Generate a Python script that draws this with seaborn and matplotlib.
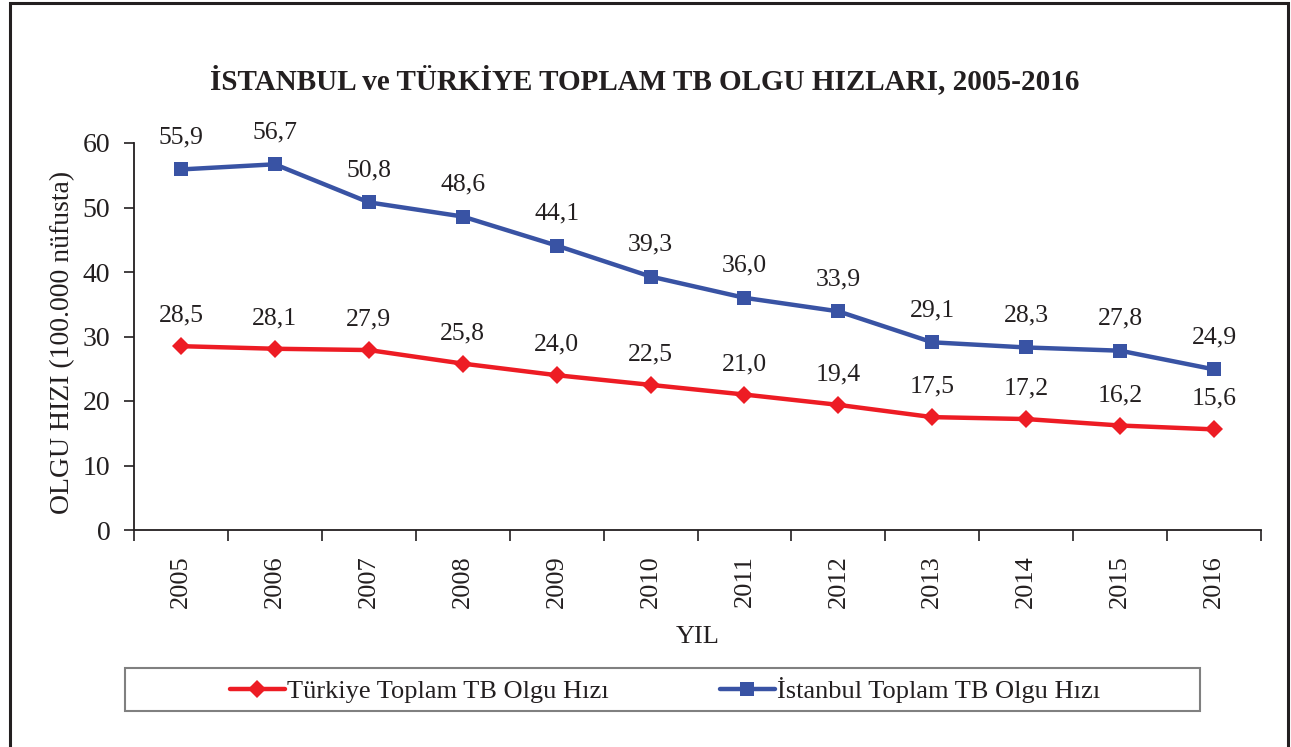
import matplotlib
matplotlib.use("Agg")
import matplotlib.pyplot as plt
import seaborn as sns
import numpy as np
from matplotlib.patches import Rectangle
from matplotlib.lines import Line2D

years = ["2005", "2006", "2007", "2008", "2009", "2010", "2011", "2012", "2013", "2014", "2015", "2016"]
turkiye = [28.5, 28.1, 27.9, 25.8, 24.0, 22.5, 21.0, 19.4, 17.5, 17.2, 16.2, 15.6]
istanbul = [55.9, 56.7, 50.8, 48.6, 44.1, 39.3, 36.0, 33.9, 29.1, 28.3, 27.8, 24.9]

title = "İSTANBUL ve TÜRKİYE TOPLAM TB OLGU HIZLARI, 2005-2016"
ylabel = "OLGU HIZI (100.000 nüfusta)"
xlabel = "YIL"
label_tr = "Türkiye Toplam TB Olgu Hızı"
label_ist = "İstanbul Toplam TB Olgu Hızı"

RED = "#ED1C24"
BLUE = "#3953A4"
INK = "#231F20"

sns.set_theme(style="white")
plt.rcParams['font.family'] = ['Liberation Serif', 'DejaVu Serif']

W, H = 1291, 747
fig = plt.figure(figsize=(W / 100, H / 100), dpi=100)
fig.patch.set_facecolor("white")

ax = fig.add_axes([134 / W, 1 - 530 / H, (1261 - 134) / W, (530 - 143) / H])
ax.set_facecolor("white")

x = np.arange(len(years))
sns.lineplot(x=x, y=turkiye, ax=ax, color=RED, lw=3.2, marker="D", markersize=9,
             markeredgecolor=RED, markeredgewidth=0, label=label_tr, legend=False)
sns.lineplot(x=x, y=istanbul, ax=ax, color=BLUE, lw=3.2, marker="s", markersize=10,
             markeredgecolor=BLUE, markeredgewidth=0, label=label_ist, legend=False)

for xi, v in zip(x, turkiye):
    ax.annotate(f"{v:.1f}".replace(".", ","), (xi, v), xytext=(0, 22), textcoords="offset points",
                ha="center", va="center", fontsize=18.5, color=INK)
for xi, v in zip(x, istanbul):
    ax.annotate(f"{v:.1f}".replace(".", ","), (xi, v), xytext=(0, 23), textcoords="offset points",
                ha="center", va="center", fontsize=18.5, color=INK)

ax.set_xlim(-0.5, len(years) - 0.5)
ax.set_ylim(0, 60)
ax.set_yticks(range(0, 61, 10))
ax.set_xticks(np.arange(-0.5, len(years), 1.0))
ax.set_xticklabels([])
ax.set_xticks(x, minor=True)
ax.set_xticklabels(years, minor=True, rotation=90)
ax.tick_params(axis="x", which="major", direction="out", length=8, width=1.2, color=INK, bottom=True)
ax.tick_params(axis="x", which="minor", length=0, pad=18, labelsize=19, labelcolor=INK, bottom=True)
ax.tick_params(axis="y", direction="out", length=7, width=1.2, color=INK, labelsize=20,
               labelcolor=INK, left=True, pad=10)

for s in ["top", "right"]:
    ax.spines[s].set_visible(False)
for s in ["left", "bottom"]:
    ax.spines[s].set_color(INK)
    ax.spines[s].set_linewidth(1.3)

ax.set_ylabel(ylabel, fontsize=20, color=INK)
ax.yaxis.set_label_coords(-59 / (1261 - 134), (530 - 342) / (530 - 143))
ax.set_xlabel(xlabel, fontsize=19, color=INK)
ax.xaxis.set_label_coords(0.5, -(637 - 530) / (530 - 143))
ax.xaxis.label.set_va("center")

fig.text(645 / W, 1 - 80 / H, title, ha="center", va="center", fontsize=21, fontweight="bold", color=INK)

# outer border
fig.patches.append(Rectangle((10 / W, -0.05), (1288 - 10) / W, 1 - 3 / H + 0.05, transform=fig.transFigure,
                             fill=False, edgecolor=INK, lw=2.2))
# legend frame
fig.patches.append(Rectangle((125 / W, 1 - 711 / H), (1200 - 125) / W, (711 - 668) / H, transform=fig.transFigure,
                             fill=False, edgecolor="#808080", lw=1.5))

handles = [Line2D([], [], color=RED, lw=3.2, marker="D", markersize=9, markeredgewidth=0),
           Line2D([], [], color=BLUE, lw=3.2, marker="s", markersize=10, markeredgewidth=0)]
fig.legend(handles, [label_tr, label_ist], loc="center", bbox_to_anchor=(665 / W, 1 - 690 / H),
           ncol=2, frameon=False, fontsize=19, handlelength=2.1, handletextpad=0.08, columnspacing=4.2,
           labelcolor=INK)

fig.savefig("out.png", dpi=100, facecolor="white")
